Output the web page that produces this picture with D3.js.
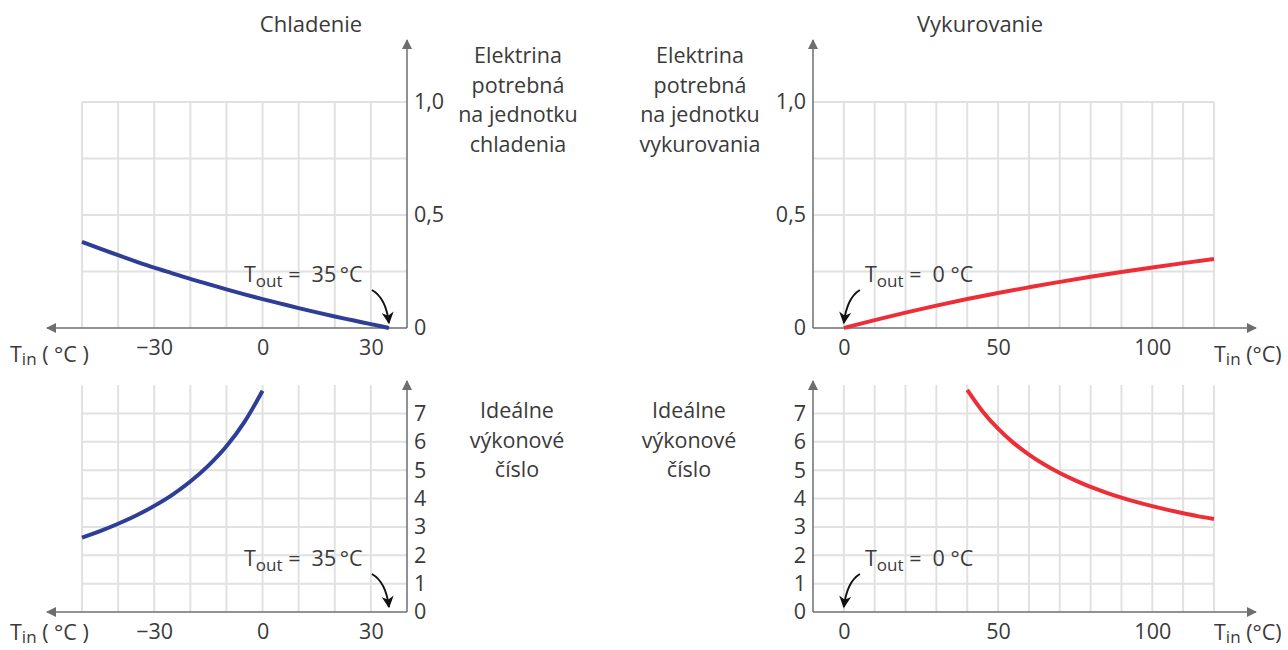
<!DOCTYPE html>
<html>
<head>
<meta charset="utf-8">
<script src="https://cdnjs.cloudflare.com/ajax/libs/d3/7.8.5/d3.min.js"></script>
<style>
  body { margin: 0; background: #fff; }
  svg text { font-family: "Open Sans", "Noto Sans", sans-serif; font-weight: 400; fill: #3a3a3a; white-space: pre; }
</style>
</head>
<body>
<svg id="chart" width="1288" height="650"></svg>
<script>
// Chladenie (Tout = 35 °C)
var coolTin = [-50, -45, -40, -35, -30, -25, -20, -15, -10, -5, 0, 5, 10, 15, 20, 25, 30, 35]
var coolElec = [0.381, 0.351, 0.322, 0.294, 0.267, 0.242, 0.217, 0.194, 0.171, 0.149, 0.128, 0.108, 0.088, 0.069, 0.051, 0.034, 0.017, 0]
var coolCopTin = [-50, -45, -40, -35, -30, -25, -20, -15, -10, -5, 0]
var coolCop = [2.62, 2.85, 3.11, 3.40, 3.74, 4.13, 4.60, 5.16, 5.84, 6.70, 7.80]

// Vykurovanie (Tout = 0 °C)
var heatTin = [0, 10, 20, 30, 40, 50, 60, 70, 80, 90, 100, 110, 120]
var heatElec = [0, 0.035, 0.068, 0.099, 0.128, 0.155, 0.180, 0.204, 0.227, 0.248, 0.268, 0.287, 0.305]
var heatCopTin = [40, 45, 50, 55, 60, 65, 70, 75, 80, 85, 90, 95, 100, 105, 110, 115, 120]
var heatCop = [7.83, 7.07, 6.46, 5.96, 5.55, 5.20, 4.90, 4.64, 4.41, 4.21, 4.03, 3.87, 3.73, 3.60, 3.48, 3.37, 3.28]

// ticks
var coolXTicks = [-30, 0, 30]
var heatXTicks = [0, 50, 100]
var elecTicks = [0, 0.5, 1]
var copTicks = [0, 1, 2, 3, 4, 5, 6, 7]
var coolGridX = [-50, -40, -30, -20, -10, 0, 10, 20, 30]
var heatGridX = [0, 10, 20, 30, 40, 50, 60, 70, 80, 90, 100, 110, 120]
var elecGridY = [0.25, 0.5, 0.75, 1]
var copGridY = [1, 2, 3, 4, 5, 6, 7]

var svg = d3.select("#chart")
var defs = svg.append("defs")
defs.append("marker").attr("id", "tri").attr("viewBox", "0 0 10 10")
    .attr("refX", 9).attr("refY", 5).attr("markerWidth", 12).attr("markerHeight", 10)
    .attr("markerUnits", "userSpaceOnUse").attr("orient", "auto")
    .append("path").attr("d", "M0,0 L10,5 L0,10 Z").attr("fill", "#6d6e70")
defs.append("marker").attr("id", "blk").attr("viewBox", "0 0 10 10")
    .attr("refX", 9).attr("refY", 5).attr("markerWidth", 13).attr("markerHeight", 12)
    .attr("markerUnits", "userSpaceOnUse").attr("orient", "auto")
    .append("path").attr("d", "M0,0 L10,5 L0,10 L3,5 Z").attr("fill", "#111")

var fontSize = 21.5
var xCool = d3.scaleLinear().domain([-50, 40]).range([82, 407])
var xHeat = d3.scaleLinear().domain([-10, 120]).range([813, 1214])
var yElec = d3.scaleLinear().domain([0, 1]).range([328, 102])
var yCop = d3.scaleLinear().domain([0, 8]).range([612, 385])

var fmtX = d => d < 0 ? "\u2212" + Math.abs(d) : String(d)
var fmtElec = d => d === 0 ? "0" : d.toFixed(1).replace(".", ",")

function panel(o) {
    var g = svg.append("g")
    var x = o.x, y = o.y
    var x0 = x.domain()[0], x1 = x.domain()[1]
    var yTop = o.gridTop

    // grid
    g.selectAll(".gx").data(o.gridX).enter().append("line")
        .attr("x1", d => x(d)).attr("x2", d => x(d))
        .attr("y1", y(0)).attr("y2", y(yTop))
        .attr("stroke", "#e1e1e1").attr("stroke-width", 2)
    g.selectAll(".gy").data(o.gridY).enter().append("line")
        .attr("x1", x(x0)).attr("x2", x(x1))
        .attr("y1", d => y(d)).attr("y2", d => y(d))
        .attr("stroke", "#e1e1e1").attr("stroke-width", 2)

    // axes lines with arrows
    var axX = o.left ? x(x1) : x(x0)
    g.append("line").attr("x1", axX).attr("y1", y(0)).attr("x2", axX).attr("y2", o.arrowTop)
        .attr("stroke", "#6d6e70").attr("stroke-width", 1.5).attr("marker-end", "url(#tri)")
    g.append("line").attr("x1", axX).attr("y1", y(0))
        .attr("x2", o.left ? x(x0) - 35 : x(x1) + 42).attr("y2", y(0))
        .attr("stroke", "#6d6e70").attr("stroke-width", 1.5).attr("marker-end", "url(#tri)")

    // x tick labels
    var xa = g.append("g").attr("transform", "translate(0," + y(0) + ")")
        .call(d3.axisBottom(x).tickValues(o.xTicks).tickFormat(fmtX).tickSize(0).tickPadding(7))
    // y tick labels
    var ya = g.append("g").attr("transform", "translate(" + axX + ",0)")
        .call((o.left ? d3.axisRight(y) : d3.axisLeft(y)).tickValues(o.yTicks).tickFormat(o.yFmt).tickSize(0).tickPadding(7))
    ;[xa, ya].forEach(a => {
        a.select(".domain").remove()
        a.selectAll("text").attr("font-size", fontSize).style("font-family", null)
            .attr("fill", "#3a3a3a")
    })
    xa.selectAll("text").attr("dy", "0.95em")

    // curve
    var line = d3.line().x(d => x(d[0])).y(d => y(d[1])).curve(d3.curveMonotoneX)
    g.append("path").datum(d3.zip(o.tin, o.vals)).attr("d", line)
        .attr("fill", "none").attr("stroke", o.color).attr("stroke-width", 4).attr("stroke-linecap", "butt")

    // Tin label
    var tl = g.append("text").attr("x", o.tinX).attr("y", y(0) + o.tinDy).attr("font-size", fontSize)
    tl.append("tspan").text("T")
    tl.append("tspan").text("in").attr("font-size", 17).attr("dy", 3)
    tl.append("tspan").text(o.left ? " ( °C )" : " (°C)").attr("dy", -3)

    // Tout annotation
    var ta = g.append("text").attr("x", o.toutX).attr("y", y(0) - 46).attr("font-size", fontSize)
    ta.append("tspan").text("T")
    ta.append("tspan").text("out").attr("font-size", 17).attr("dy", 5)
    ta.append("tspan").text(o.toutText).attr("dy", -5)

    var ex = x(o.tout), ey = y(0) - 5
    var sx = o.left ? ex - 17 : ex + 16, sy = y(0) - 38
    var cx = o.left ? ex - 3 : ex + 3
    g.append("path").attr("d", "M" + sx + "," + sy + " Q" + cx + "," + (sy + 8) + " " + ex + "," + ey)
        .attr("fill", "none").attr("stroke", "#111").attr("stroke-width", 2).attr("marker-end", "url(#blk)")

    // side label
    var lab = g.append("text").attr("text-anchor", "middle").attr("font-size", fontSize)
    o.label.forEach((t, i) => {
        lab.append("tspan").attr("x", o.labelX).attr("y", o.labelY + i * 29.5).text(t)
    })
}

panel({ x: xCool, y: yElec, left: true, gridX: coolGridX, gridY: elecGridY, gridTop: 1,
    arrowTop: 40, xTicks: coolXTicks, yTicks: elecTicks, yFmt: fmtElec, tinDy: 34,
    tin: coolTin, vals: coolElec, color: "#2e3d96", tinX: 10, tout: 35, toutX: 244, toutText: " =  35\u2009°C",
    label: ["Elektrina", "potrebná", "na jednotku", "chladenia"], labelX: 518, labelY: 63 })

panel({ x: xCool, y: yCop, left: true, gridX: coolGridX, gridY: copGridY, gridTop: 8,
    arrowTop: 381, xTicks: coolXTicks, yTicks: copTicks, yFmt: d => String(d), tinDy: 28,
    tin: coolCopTin, vals: coolCop, color: "#2e3d96", tinX: 10, tout: 35, toutX: 244, toutText: " =  35\u2009°C",
    label: ["Ideálne", "výkonové", "číslo"], labelX: 517, labelY: 418 })

panel({ x: xHeat, y: yElec, left: false, gridX: heatGridX, gridY: elecGridY, gridTop: 1,
    arrowTop: 40, xTicks: heatXTicks, yTicks: elecTicks, yFmt: fmtElec, tinDy: 34,
    tin: heatTin, vals: heatElec, color: "#ec2f36", tinX: 1214, tout: 0, toutX: 865, toutText: " =  0 °C",
    label: ["Elektrina", "potrebná", "na jednotku", "vykurovania"], labelX: 700, labelY: 63 })

panel({ x: xHeat, y: yCop, left: false, gridX: heatGridX, gridY: copGridY, gridTop: 8,
    arrowTop: 381, xTicks: heatXTicks, yTicks: copTicks, yFmt: d => String(d), tinDy: 28,
    tin: heatCopTin, vals: heatCop, color: "#ec2f36", tinX: 1214, tout: 0, toutX: 865, toutText: " =  0 °C",
    label: ["Ideálne", "výkonové", "číslo"], labelX: 689, labelY: 418 })

// titles
svg.append("text").attr("x", 311).attr("y", 32).attr("text-anchor", "middle").attr("font-size", 22).text("Chladenie")
svg.append("text").attr("x", 980).attr("y", 32).attr("text-anchor", "middle").attr("font-size", 22).text("Vykurovanie")
</script>
</body>
</html>
